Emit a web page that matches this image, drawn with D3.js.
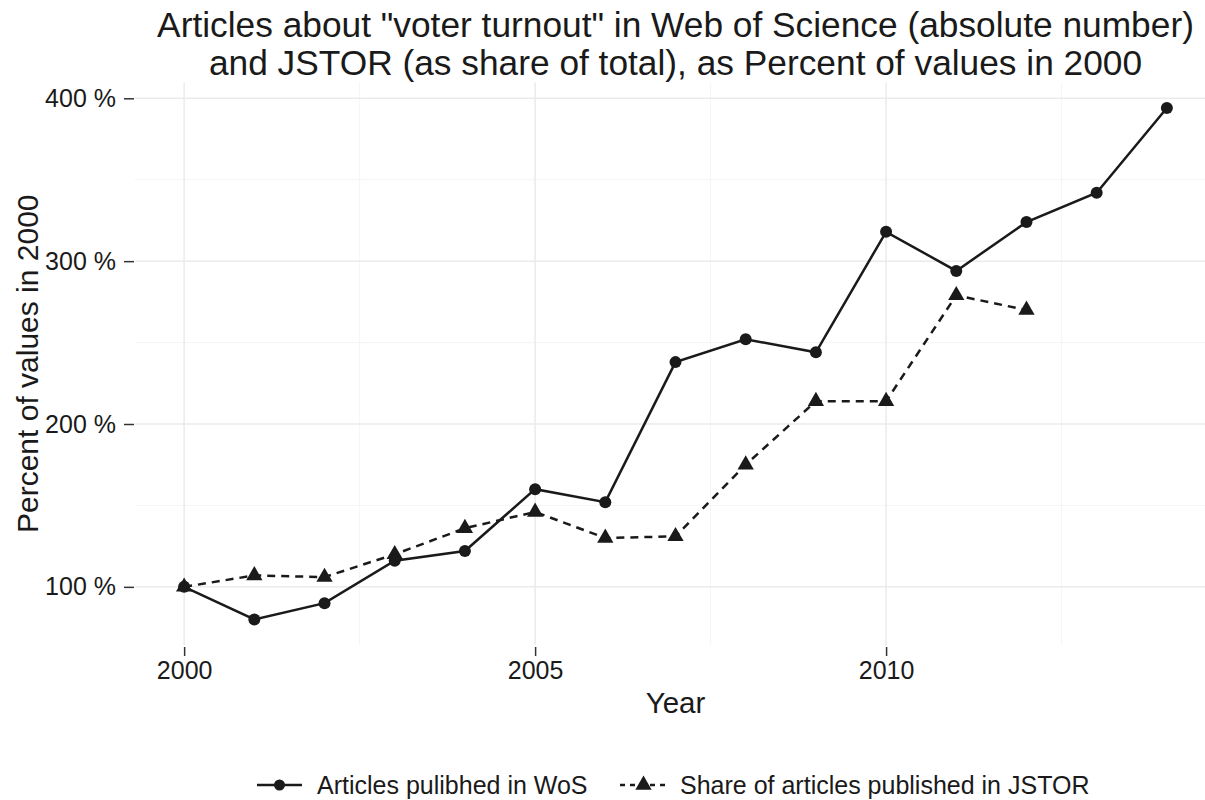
<!DOCTYPE html>
<html>
<head>
<meta charset="utf-8">
<script src="https://cdn.jsdelivr.net/npm/d3@7"></script>
<style>
  html, body { margin: 0; padding: 0; background: #fff; }
  svg { display: block; font-family: "Liberation Sans", Arial, Helvetica, sans-serif; }
</style>
</head>
<body>
<svg id="chart" width="1205" height="800"></svg>
<script>
// ---- data ----
const years = [2000, 2001, 2002, 2003, 2004, 2005, 2006, 2007, 2008, 2009, 2010, 2011, 2012, 2013, 2014];
const wosValues = [100, 80, 90, 116, 122, 160, 152, 238, 252, 244, 318, 294, 324, 342, 394];
const jstorYears = [2000, 2001, 2002, 2003, 2004, 2005, 2006, 2007, 2008, 2009, 2010, 2011, 2012];
const jstorValues = [100, 107, 106, 120, 136, 146, 130, 131, 175, 214, 214, 279, 270];
const xTicks = [2000, 2005, 2010];
const xMinor = [2002.5, 2007.5, 2012.5];
const yTicks = [100, 200, 300, 400];
const yMinor = [150, 250, 350];
const titleLines = ['Articles about "voter turnout" in Web of Science (absolute number)',
                    'and JSTOR (as share of total), as Percent of values in 2000'];
const xTitle = "Year";
const yTitle = "Percent of values in 2000";
const seriesNames = ["Articles pulibhed in WoS", "Share of articles published in JSTOR"];

// ---- layout ----
const svg = d3.select("#chart");
const panel = { left: 135, right: 1216, top: 82.5, bottom: 645 };
const ink = "#1a1a1a";

const allVals = wosValues.concat(jstorValues);
const yMin = d3.min(allVals), yMax = d3.max(allVals);
const yPad = (yMax - yMin) * 0.05;
const xPad = (d3.max(years) - d3.min(years)) * 0.05;

const x = d3.scaleLinear().domain([d3.min(years) - xPad, d3.max(years) + xPad]).range([panel.left, panel.right]);
const y = d3.scaleLinear().domain([yMin - yPad, yMax + yPad]).range([panel.bottom, panel.top]);

// grid
const grid = svg.append("g");
grid.selectAll(".ymin").data(yMinor).join("line")
  .attr("x1", panel.left).attr("x2", panel.right)
  .attr("y1", d => y(d)).attr("y2", d => y(d))
  .attr("stroke", "#f3f3f3").attr("stroke-width", 0.8);
grid.selectAll(".xmin").data(xMinor).join("line")
  .attr("y1", panel.top).attr("y2", panel.bottom)
  .attr("x1", d => x(d)).attr("x2", d => x(d))
  .attr("stroke", "#f3f3f3").attr("stroke-width", 0.8);
grid.selectAll(".ymaj").data(yTicks).join("line")
  .attr("x1", panel.left).attr("x2", panel.right)
  .attr("y1", d => y(d)).attr("y2", d => y(d))
  .attr("stroke", "#ebebeb").attr("stroke-width", 1.5);
grid.selectAll(".xmaj").data(xTicks).join("line")
  .attr("y1", panel.top).attr("y2", panel.bottom)
  .attr("x1", d => x(d)).attr("x2", d => x(d))
  .attr("stroke", "#ebebeb").attr("stroke-width", 1.5);

// axes
const tickFont = "25px";
const yAxis = d3.axisLeft(y).tickValues(yTicks).tickSize(10).tickPadding(8).tickFormat(d => d + " %");
const gy = svg.append("g").attr("transform", `translate(${panel.left - 1},0)`).call(yAxis);
gy.select(".domain").remove();
gy.selectAll(".tick line").attr("stroke", "#333").attr("stroke-width", 1.5);
gy.selectAll(".tick text").attr("fill", ink).style("font-size", tickFont)
  .style("font-family", "'Liberation Sans', Arial, sans-serif");

const xAxis = d3.axisBottom(x).tickValues(xTicks).tickSize(9).tickPadding(5).tickFormat(d3.format("d"));
const gx = svg.append("g").attr("transform", `translate(0,${panel.bottom + 2})`).call(xAxis);
gx.select(".domain").remove();
gx.selectAll(".tick line").attr("stroke", "#333").attr("stroke-width", 1.5);
gx.selectAll(".tick text").attr("fill", ink).style("font-size", tickFont)
  .style("font-family", "'Liberation Sans', Arial, sans-serif");

// axis titles
const cx = (panel.left + panel.right) / 2;
svg.append("text").attr("x", cx).attr("y", 713).attr("text-anchor", "middle")
  .attr("fill", ink).style("font-size", "29.5px").text(xTitle);
svg.append("text").attr("transform", `translate(38,${(panel.top + panel.bottom) / 2}) rotate(-90)`)
  .attr("text-anchor", "middle").attr("fill", ink).style("font-size", "30px").text(yTitle);

// title
svg.append("g").selectAll("text").data(titleLines).join("text")
  .attr("x", cx).attr("y", (d, i) => 37 + i * 38).attr("text-anchor", "middle")
  .attr("fill", ink).style("font-size", "35.3px").text(d => d);

// lines
const wos = years.map((yr, i) => ({ x: yr, y: wosValues[i] }));
const jstor = jstorYears.map((yr, i) => ({ x: yr, y: jstorValues[i] }));
const line = d3.line().x(d => x(d.x)).y(d => y(d.y));

svg.append("path").datum(jstor).attr("d", line).attr("fill", "none")
  .attr("stroke", ink).attr("stroke-width", 2.5).attr("stroke-dasharray", "8,6");
svg.append("path").datum(wos).attr("d", line).attr("fill", "none")
  .attr("stroke", ink).attr("stroke-width", 2.5);

const tri = d3.symbol().type(d3.symbolTriangle).size(115);
svg.append("g").selectAll("path").data(jstor).join("path")
  .attr("transform", d => `translate(${x(d.x)},${y(d.y)})`)
  .attr("d", tri).attr("fill", ink);
svg.append("g").selectAll("circle").data(wos).join("circle")
  .attr("cx", d => x(d.x)).attr("cy", d => y(d.y)).attr("r", 6).attr("fill", ink);

// legend
const legFont = "25px";
const leg = svg.append("g").attr("transform", "translate(0,785)");
leg.append("line").attr("x1", 257).attr("x2", 302).attr("stroke", ink).attr("stroke-width", 2.5);
leg.append("circle").attr("cx", 279.5).attr("r", 5.5).attr("fill", ink);
leg.append("text").attr("x", 317).attr("dy", "0.35em").attr("fill", ink)
  .style("font-size", legFont).text(seriesNames[0]);
leg.append("line").attr("x1", 620).attr("x2", 667).attr("stroke", ink).attr("stroke-width", 2.5)
  .attr("stroke-dasharray", "5,5");
leg.append("path").attr("transform", "translate(643.5,0)").attr("d", tri).attr("fill", ink);
leg.append("text").attr("x", 680).attr("dy", "0.35em").attr("fill", ink)
  .style("font-size", legFont).text(seriesNames[1]);
</script>
</body>
</html>
